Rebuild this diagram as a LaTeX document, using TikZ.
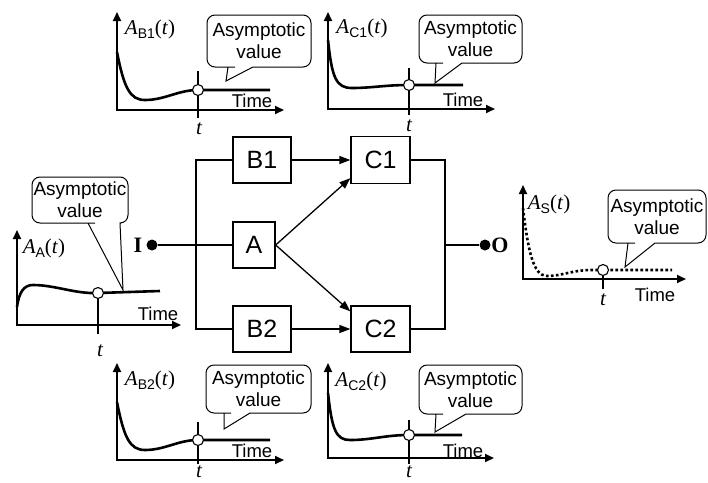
\documentclass[tikz,border=0pt]{standalone}
\usepackage{fontspec}
\setmainfont{Liberation Serif}
\setsansfont{Liberation Sans}
\usetikzlibrary{arrows.meta}
\newcommand\mytitle[1]{\textit{A}\raisebox{-4pt}{\sffamily\fontsize{14}{14}\selectfont #1}(\textit{t})}
\newcommand\mycallout[9]{%
 \draw[calloutbox] (#5,#6) -- (#8,#4) -- ({#8+1},#4) [rounded corners=8pt] -- (#2,#4) -- (#2,#3) -- (#1,#3) -- (#1,#4) -- ({#7-1},#4) [sharp corners] -- (#7,#4) -- cycle;
 \node[callouttext] (#9) at ({(#1+#2)/2},{(#3+#4)/2}) {Asymptotic\\value};
}
\begin{document}
\begin{tikzpicture}[x=1pt,y=-1pt,
  blk/.style={draw, line width=1.3pt, font=\sffamily\fontsize{25}{25}\selectfont, inner sep=0pt},
  conn/.style={line width=1.3pt},
  arr/.style={conn, -{Triangle[length=11pt,width=8pt]}},
  axes/.style={line width=1.8pt, {Triangle[length=9pt,width=8pt]}-{Triangle[length=9pt,width=8pt]}},
  curve/.style={line width=2.6pt},
  dotcurve/.style={line width=2.6pt, dash pattern=on 2.6pt off 2.4pt},
  tick/.style={line width=1.2pt},
  marker/.style={draw, fill=white, line width=1.1pt},
  calloutbox/.style={draw, fill=white, line width=1pt},
  callouttext/.style={font=\sffamily\fontsize{19}{22}\selectfont, align=center},
  timelbl/.style={font=\sffamily\fontsize{18.5}{18.5}\selectfont},
  tlbl/.style={font=\fontsize{21}{21}\selectfont\itshape, inner sep=0pt, anchor=base},
  ttl/.style={font=\fontsize{21}{21}\selectfont},
  dot/.style={circle, fill, inner sep=0pt, minimum size=11pt},
  io/.style={font=\bfseries\fontsize{22}{22}\selectfont}
]
\path[use as bounding box, fill=white] (0,0) rectangle (708,482);

% ---- block diagram ----
\node[blk, minimum width=58pt, minimum height=46pt] (B1) at (262,160) {B1};
\node[blk, minimum width=59pt, minimum height=47pt] (C1) at (380.5,160) {C1};
\node[blk, minimum width=42pt, minimum height=46pt] (A) at (254,245) {A};
\node[blk, minimum width=58pt, minimum height=46pt] (B2) at (262,329) {B2};
\node[blk, minimum width=59pt, minimum height=46pt] (C2) at (380.5,329) {C2};

\node[dot] (I) at (152,245) {};
\node[io] (Ilbl) at (138,245) {I};
\node[dot] (O) at (485,245) {};
\node[io] (Olbl) at (500,245) {O};

\coordinate (LT) at (196,160);
\coordinate (LM) at (196,245);
\coordinate (LB) at (196,329);
\coordinate (RT) at (445,160);
\coordinate (RM) at (445,245);
\coordinate (RB) at (445,329);

\draw[conn] (I) -- (LM);
\draw[conn] (B1.west) -- (LT) -- (LB) -- (B2.west);
\draw[conn] (LM) -- (A.west);
\draw[arr] (B1.east) -- (C1.west);
\draw[arr] (A.east) -- ([yshift=6pt]C1.south west);
\draw[arr] (A.east) -- ([yshift=-6pt]C2.north west);
\draw[arr] (B2.east) -- (C2.west);
\draw[conn] (C1.east) -- (RT) -- (RB) -- (C2.east);
\draw[conn] (RM) -- (O);

% ---- chart B1 ----
\draw[axes] (117,12) -- (117,110) -- (284,110);
\draw[curve] (117,52) .. controls (124,88) and (130,100) .. (145,100) .. controls (165,100) and (178,90) .. (198,90) -- (270,90);
\draw[tick] (198,71) -- (198,118);
\draw[marker] (198,90) circle[radius=5.5pt];
\node[tlbl] (tB1) at (199,134) {t};
\node[timelbl] (timeB1) at (252,101) {Time};
\node[ttl] (ttlB1) at (150,29) {\mytitle{B1}};
\mycallout{207}{311}{15}{67}{226}{81}{228}{253}{cB1}

% ---- chart C1 ----
\draw[axes] (328,12) -- (328,109) -- (495,109);
\draw[curve] (328,40) .. controls (332,78) and (336,88) .. (352,88) .. controls (372,88) and (385,85) .. (409,85) -- (463,85);
\draw[tick] (409,68) -- (409,115);
\draw[marker] (409,85) circle[radius=5.5pt];
\node[tlbl] (tC1) at (409,131) {t};
\node[timelbl] (timeC1) at (463,100) {Time};
\node[ttl] (ttlC1) at (362,28) {\mytitle{C1}};
\mycallout{419}{522}{15}{63}{435}{83}{436}{462}{cC1}

% ---- chart A ----
\draw[axes] (17,230) -- (17,325) -- (181,325);
\draw[curve] (17,307) .. controls (19,292) and (24,285) .. (33,285) .. controls (55,285) and (75,294) .. (98,293) -- (160,291);
\draw[tick] (98,293) -- (98,334);
\draw[marker] (98,293) circle[radius=5.5pt];
\node[tlbl] (tA) at (100,356) {t};
\node[timelbl] (timeA) at (158,314) {Time};
\node[ttl] (ttlA) at (44,248) {\mytitle{A}};
\mycallout{32}{128}{177}{223}{123}{290}{88}{120}{cA}

% ---- chart S ----
\draw[axes] (523,185) -- (523,279) -- (686,279);
\draw[dotcurve] (523,208) .. controls (528,250) and (533,276) .. (547,276) .. controls (562,276) and (572,270) .. (592,270) -- (672,270);
\draw[tick] (603,270) -- (603,289);
\draw[marker] (603,270) circle[radius=5.5pt];
\node[tlbl] (tS) at (603,305) {t};
\node[timelbl] (timeS) at (655,295) {Time};
\node[ttl] (ttlS) at (549,204) {\mytitle{S}};
\mycallout{608}{706}{190}{243}{625}{267}{628}{655}{cS}

% ---- chart B2 ----
\draw[axes] (117,363) -- (117,460) -- (284,460);
\draw[curve] (117,402) .. controls (124,438) and (130,450) .. (145,450) .. controls (165,450) and (178,440) .. (198,440) -- (270,440);
\draw[tick] (198,422) -- (198,464);
\draw[marker] (198,440) circle[radius=5.5pt];
\node[tlbl] (tB2) at (199,477) {t};
\node[timelbl] (timeB2) at (252,451) {Time};
\node[ttl] (ttlB2) at (150,380) {\mytitle{B2}};
\mycallout{206}{311}{365}{413}{224}{429}{224}{250}{cB2}

% ---- chart C2 ----
\draw[axes] (328,363) -- (328,458) -- (494,458);
\draw[curve] (328,393) .. controls (332,430) and (336,440) .. (350,440) .. controls (372,440) and (385,435) .. (409,435) -- (462,435);
\draw[tick] (409,420) -- (409,464);
\draw[marker] (409,435) circle[radius=5.5pt];
\node[tlbl] (tC2) at (409,477) {t};
\node[timelbl] (timeC2) at (463,451) {Time};
\node[ttl] (ttlC2) at (361,381) {\mytitle{C2}};
\mycallout{419}{522}{365}{414}{435}{432}{436}{466}{cC2}
\end{tikzpicture}
\end{document}
